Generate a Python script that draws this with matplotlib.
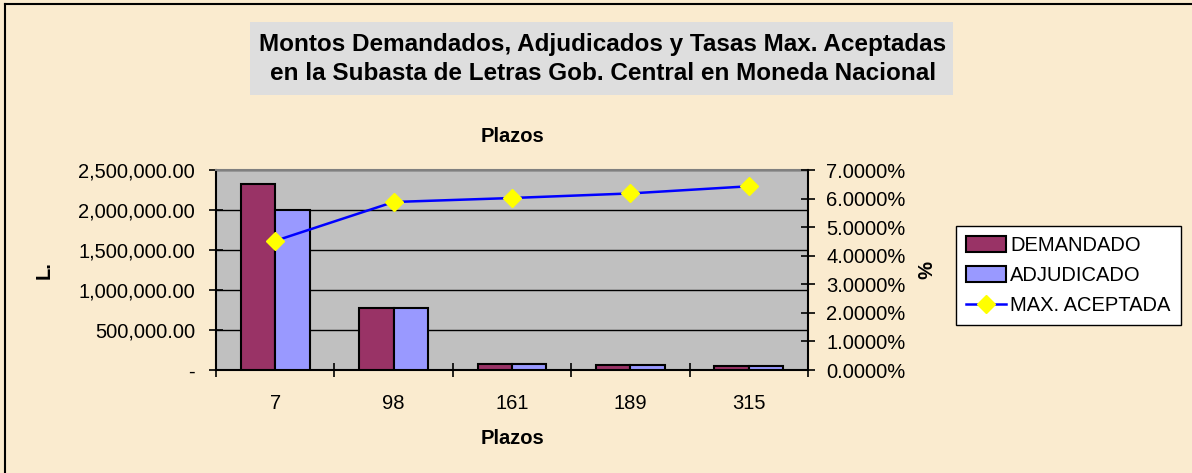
import numpy as np
import matplotlib
matplotlib.use("Agg")
import matplotlib.pyplot as plt
from matplotlib.patches import Rectangle
from matplotlib.lines import Line2D
from matplotlib.ticker import FuncFormatter, FixedLocator

plt.rcParams['font.family'] = ['Liberation Sans', 'DejaVu Sans']

# data
plazos = ["7", "98", "161", "189", "315"]
demandado = [2325000, 780000, 75000, 62000, 52000]
adjudicado = [2000000, 778000, 72000, 60000, 50000]
max_aceptada = [4.52, 5.88, 6.02, 6.18, 6.43]   # percent

bg = '#FAEBCF'
fig = plt.figure(figsize=(11.92, 4.73), dpi=100, facecolor=bg)

# outer border (only left / top edges visible)
fig.add_artist(Line2D([5/1192, 5/1192], [0, 1 - 4/473], transform=fig.transFigure, color='black', lw=1.5))
fig.add_artist(Line2D([5/1192, 1], [1 - 4/473, 1 - 4/473], transform=fig.transFigure, color='black', lw=1.5))

# title box
tb = Rectangle((250/1192, 1 - 95/473), 703/1192, 73/473, transform=fig.transFigure,
               facecolor='#DEDEDE', edgecolor='none', zorder=0)
fig.add_artist(tb)
fig.text(603/1192, 1 - 45/473, "Montos Demandados, Adjudicados y Tasas Max. Aceptadas",
         ha='center', va='center', fontsize=17.5, fontweight='bold')
fig.text(603/1192, 1 - 73/473, "en la Subasta de Letras Gob. Central en Moneda Nacional",
         ha='center', va='center', fontsize=17.5, fontweight='bold')

ax = fig.add_axes([216/1192, 1 - 370/473, 592/1192, 200/473])
ax.set_facecolor('#C0C0C0')
x = np.arange(len(plazos))
w = 0.29
ax.bar(x - w/2, demandado, w, color='#993366', edgecolor='black', lw=1.5, label='DEMANDADO', zorder=3)
ax.bar(x + w/2, adjudicado, w, color='#9999FF', edgecolor='black', lw=1.5, label='ADJUDICADO', zorder=3)
ax.set_xlim(-0.5, len(plazos) - 0.5)
ax.set_ylim(0, 2500000)
ax.set_yticks(np.arange(0, 2500001, 500000))
ax.yaxis.set_major_formatter(FuncFormatter(lambda v, p: "-" if v == 0 else f"{v:,.2f}"))
ax.grid(axis='y', color='black', lw=1, zorder=1)
ax.set_axisbelow(True)

ax.set_xticks(x)
ax.set_xticklabels(plazos)
ax.xaxis.set_minor_locator(FixedLocator(np.arange(-0.5, len(plazos), 1)))
ax.tick_params(axis='x', which='major', length=0, labelsize=14.5, pad=17)
ax.tick_params(axis='x', which='minor', direction='inout', length=10, width=1.2)
ax.tick_params(axis='y', direction='inout', length=10, width=1.2, labelsize=14.5, pad=10)

for s in ['left', 'bottom']:
    ax.spines[s].set_color('black')
    ax.spines[s].set_linewidth(1.5)
ax.spines['top'].set_color('#808080')
ax.spines['top'].set_linewidth(1.5)
ax.spines['right'].set_visible(False)

ax.set_xlabel("Plazos", fontsize=14.5, fontweight='bold', labelpad=12)
ax.set_title("Plazos", fontsize=14.5, fontweight='bold', pad=20)
ax.set_ylabel("L.", fontsize=14.5, fontweight='bold', labelpad=18)

ax2 = ax.twinx()
ax2.plot(x, max_aceptada, color='#0000FF', lw=1.8, marker='D', markersize=9,
         markerfacecolor='#FFFF00', markeredgecolor='#FFFF00', label='MAX. ACEPTADA', zorder=5)
ax2.set_ylim(0, 7)
ax2.set_yticks(np.arange(0, 7.01, 1))
ax2.yaxis.set_major_formatter(FuncFormatter(lambda v, p: f"{v:.4f}%"))
ax2.tick_params(axis='y', direction='inout', length=10, width=1.2, labelsize=14.5, pad=8)
for s in ['left', 'bottom', 'top']:
    ax2.spines[s].set_visible(False)
ax2.spines['right'].set_color('black')
ax2.spines['right'].set_linewidth(1.5)
ax2.set_ylabel("%", fontsize=14.5, fontweight='bold', rotation=-90, labelpad=12, va='center')

h1, l1 = ax.get_legend_handles_labels()
h2, l2 = ax2.get_legend_handles_labels()
leg = fig.legend(h1 + h2, l1 + l2, loc='upper left',
                 bbox_to_anchor=(956/1192, 1 - 226/473), fontsize=14.5,
                 frameon=True, fancybox=False, edgecolor='black', facecolor='white',
                 framealpha=1, handlelength=2.0, handleheight=0.8, handletextpad=0.2,
                 labelspacing=0.55, borderpad=0.5, borderaxespad=0)
leg.get_frame().set_linewidth(1.0)

fig.savefig("out.png", dpi=100, facecolor=bg)
